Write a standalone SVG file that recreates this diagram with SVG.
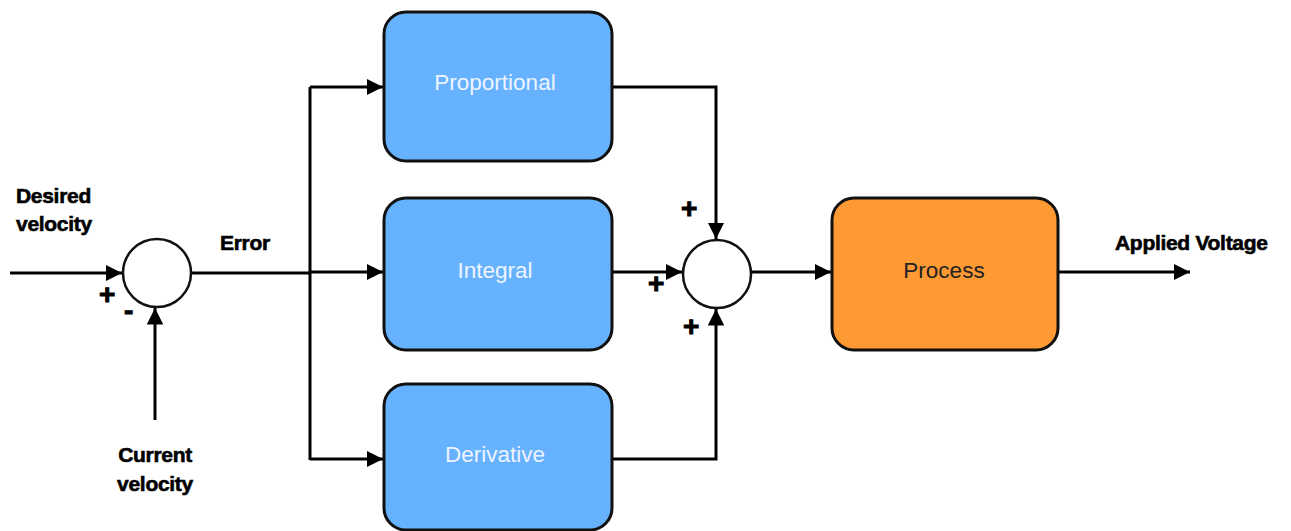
<svg xmlns="http://www.w3.org/2000/svg" width="1291" height="531" viewBox="0 0 1291 531">
<style>
.blk{fill:#66b2ff;stroke:#111;stroke-width:3}
.proc{fill:#ff9933;stroke:#111;stroke-width:3}
.sum{fill:#fff;stroke:#111;stroke-width:2.5}
.lbl{font-family:"Liberation Sans",Arial,sans-serif;font-size:22.5px;text-anchor:middle}
.w{fill:#eef4ff}
.k{fill:#222}
.ext{font-family:"Liberation Sans",Arial,sans-serif;font-size:21px;font-weight:bold;fill:#000;stroke:#000;stroke-width:0.6;letter-spacing:-0.3px}
.sign{font-family:"Liberation Sans",Arial,sans-serif;font-size:28px;font-weight:bold;fill:#000;stroke:#000;stroke-width:1}
.c{fill:none;stroke:#000;stroke-width:3}
</style>
<defs>
<marker id="ahb" viewBox="0 0 10 10" refX="10" refY="5" markerWidth="5.5" markerHeight="5.5" orient="auto">
<path d="M0,0 L10,5 L0,10 z" fill="#000"/>
</marker>
</defs>
<g id="connectors">
<path class="c" d="M10,273 L122,273" marker-end="url(#ahb)"/>
<path class="c" d="M155,420 L155,308" marker-end="url(#ahb)"/>
<path class="c" d="M192,273 L310,273"/>
<path class="c" d="M310,87 L310,460"/>
<path class="c" d="M310,87 L383,87" marker-end="url(#ahb)"/>
<path class="c" d="M310,272 L383,272" marker-end="url(#ahb)"/>
<path class="c" d="M310,459 L383,459" marker-end="url(#ahb)"/>
<path class="c" d="M612,87 L716,87 L716,239" marker-end="url(#ahb)"/>
<path class="c" d="M612,272 L682,272" marker-end="url(#ahb)"/>
<path class="c" d="M612,459 L716,459 L716,309" marker-end="url(#ahb)"/>
<path class="c" d="M751,272 L831,272" marker-end="url(#ahb)"/>
<path class="c" d="M1058,272 L1190,272" marker-end="url(#ahb)"/>
</g>
<g id="sum1"><circle class="sum" cx="157" cy="273" r="34"/></g>
<g id="sum2"><circle class="sum" cx="717" cy="274" r="34"/></g>
<g id="proportional"><rect class="blk" x="384" y="12" width="228" height="149" rx="22"/><text class="lbl w" x="495" y="90">Proportional</text></g>
<g id="integral"><rect class="blk" x="384" y="198" width="228" height="152" rx="22"/><text class="lbl w" x="495" y="278">Integral</text></g>
<g id="derivative"><rect class="blk" x="384" y="384" width="228" height="146" rx="22"/><text class="lbl w" x="495" y="462">Derivative</text></g>
<g id="process"><rect class="proc" x="832" y="198" width="226" height="152" rx="22"/><text class="lbl k" x="944" y="278">Process</text></g>
<g id="labels">
<text class="ext" x="16" y="203">Desired</text>
<text class="ext" x="16" y="231">velocity</text>
<text class="ext" x="220" y="250">Error</text>
<text class="ext" x="155" y="462" text-anchor="middle">Current</text>
<text class="ext" x="155" y="491" text-anchor="middle">velocity</text>
<text class="ext" x="1115" y="250">Applied Voltage</text>
<text class="sign" x="99" y="304">+</text>
<text class="sign" x="124" y="320">-</text>
<text class="sign" x="681" y="218">+</text>
<text class="sign" x="648" y="293">+</text>
<text class="sign" x="683" y="336">+</text>
</g>
</svg>
